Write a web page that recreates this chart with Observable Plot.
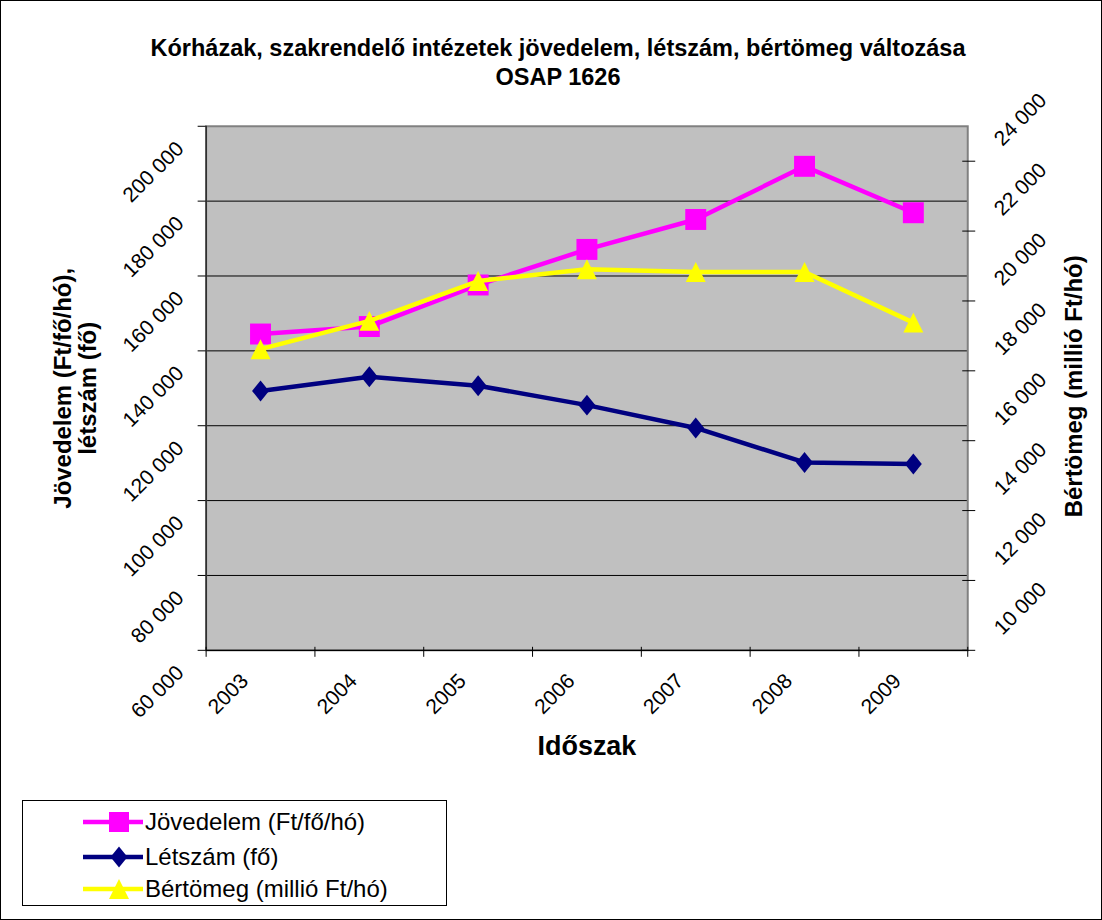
<!DOCTYPE html>
<html>
<head>
<meta charset="utf-8">
<script src="https://cdn.jsdelivr.net/npm/d3@7"></script>
<script src="https://cdn.jsdelivr.net/npm/@observablehq/plot@0.6"></script>
<style>
  html, body { margin: 0; padding: 0; background: #fff; }
  #wrap { position: relative; width: 1102px; height: 920px; box-sizing: border-box; border: 1px solid #000; overflow: hidden; font-family: "Liberation Sans", Arial, sans-serif; background: #fff; }
  #title { position: absolute; left: 0; top: 33px; width: 1102px; padding-left: 12px; box-sizing: border-box; text-align: center; font-weight: bold; font-size: 23.5px; line-height: 29px; color: #000; }
  #chart { position: absolute; left: 0; top: 0; }
  #legend { position: absolute; left: 21px; top: 799px; width: 425px; height: 106px; box-sizing: border-box; border: 1px solid #000; background: #fff; }
  .row { position: absolute; left: 0; height: 30px; display: flex; align-items: center; font-size: 24px; color: #000; white-space: nowrap; }
  .row svg { margin-left: 60px; margin-right: 2px; }
</style>
</head>
<body>
<div id="wrap">
  <div id="chart"></div>
  <div id="title">Kórházak, szakrendelő intézetek jövedelem, létszám, bértömeg változása<br>OSAP 1626</div>
  <div id="legend"></div>
</div>
<script>
// ---- data ----
const years = [2003, 2004, 2005, 2006, 2007, 2008, 2009];
const jovedelem = [144500, 146500, 157600, 167100, 175100, 189300, 176900];   // Ft/fő/hó (left axis)
const letszam   = [129300, 133100, 130700, 125500, 119400, 110200, 109800];   // fő (left axis)
const bertomeg  = [18620, 19430, 20570, 20910, 20830, 20830, 19380];          // millió Ft/hó (right axis)
const leftTicks  = [60000, 80000, 100000, 120000, 140000, 160000, 180000, 200000];
const rightTicks = [10000, 12000, 14000, 16000, 18000, 20000, 22000, 24000];
const seriesNames = ["Jövedelem (Ft/fő/hó)", "Létszám (fő)", "Bértömeg (millió Ft/hó)"];
const xTitle = "Időszak";
const yLeftTitle = "Jövedelem (Ft/fő/hó),\nlétszám (fő)";
const yRightTitle = "Bértömeg (millió Ft/hó)";

// ---- scales helpers ----
const leftDomain = [60000, 200000];
const rightDomain = [10000, 25000];
const toLeft = v => leftDomain[0] + (v - rightDomain[0]) * (leftDomain[1] - leftDomain[0]) / (rightDomain[1] - rightDomain[0]);
const fmt = d3.formatLocale({decimal: ",", thousands: "\u00a0", grouping: [3], currency: ["", ""]}).format(",.0f");
const boundaries = d3.range(years[0] - 0.5, years[years.length - 1] + 1, 1);

const rows = years.map((y, i) => ({year: y, jov: jovedelem[i], let: letszam[i], bert: toLeft(bertomeg[i])}));

// ---- custom marker symbols ----
const sqSym = {draw(ctx, size) { const r = Math.sqrt(size / Math.PI); ctx.moveTo(-r, -r); ctx.lineTo(r, -r); ctx.lineTo(r, r); ctx.lineTo(-r, r); ctx.closePath(); }};
const diaSym = {draw(ctx, size) { const r = Math.sqrt(size / Math.PI); ctx.moveTo(0, -1.05 * r); ctx.lineTo(0.85 * r, 0); ctx.lineTo(0, 1.05 * r); ctx.lineTo(-0.85 * r, 0); ctx.closePath(); }};
const triSym = {draw(ctx, size) { const r = Math.sqrt(size / Math.PI); ctx.moveTo(0, -r); ctx.lineTo(r, r); ctx.lineTo(-r, r); ctx.closePath(); }};

const series = [
  {name: seriesNames[0], key: "jov", color: "#FF00FF", symbol: sqSym, r: 10.5},
  {name: seriesNames[1], key: "let", color: "#000080", symbol: diaSym, r: 10},
  {name: seriesNames[2], key: "bert", color: "#FFFF00", symbol: triSym, r: 10}
];

const font = "Liberation Sans, Arial, sans-serif";
const tickFont = 21;

const marks = [
  Plot.frame({fill: "#C0C0C0"}),
  Plot.gridY(leftTicks.slice(1, -1), {stroke: "#000", strokeOpacity: 1, strokeWidth: 1}),
  Plot.frame({stroke: "#808080", strokeWidth: 2}),
  Plot.ruleY([leftDomain[0]], {stroke: "#000", strokeWidth: 1.2}),
  Plot.ruleX([boundaries[0]], {stroke: "#000", strokeWidth: 1}),
  // tick marks
  Plot.axisY(leftTicks, {anchor: "left", tickSize: 8, tickFormat: () => "", label: null, stroke: "#000"}),
  Plot.axisY(rightTicks.map(toLeft), {anchor: "right", tickSize: 13, dx: -6, tickFormat: () => "", label: null, stroke: "#000"}),
  Plot.axisX(boundaries, {anchor: "bottom", tickSize: 10, dy: -3, tickFormat: () => "", label: null, stroke: "#000"}),
  // tick labels
  Plot.text(leftTicks, {y: d => d, text: d => fmt(d), frameAnchor: "left", rotate: -45, textAnchor: "end", dx: -26, dy: 19, fontSize: tickFont, fill: "#000"}),
  Plot.text(rightTicks, {y: d => toLeft(d), text: d => fmt(d), frameAnchor: "right", rotate: -45, textAnchor: "start", dx: 30, dy: -19, fontSize: tickFont, fill: "#000"}),
  Plot.text(years, {x: d => d, text: d => String(d), frameAnchor: "bottom", rotate: -45, textAnchor: "end", dx: -11, dy: 32, fontSize: tickFont, fill: "#000"}),
  // axis titles
  Plot.text([yLeftTitle], {frameAnchor: "left", text: d => d, rotate: -90, textAnchor: "middle", dx: -131, fontSize: 24, fontWeight: "bold", lineHeight: 1.05, fill: "#000"}),
  Plot.text([yRightTitle], {frameAnchor: "right", text: d => d, rotate: -90, textAnchor: "middle", dx: 107, dy: -2, fontSize: 24, fontWeight: "bold", fill: "#000"}),
  Plot.text([xTitle], {frameAnchor: "bottom", text: d => d, dy: 105, fontSize: 27, fontWeight: "bold", fill: "#000"})
];
for (const s of series) {
  marks.push(Plot.line(rows, {x: "year", y: s.key, stroke: s.color, strokeWidth: 4.5, strokeLinejoin: "round"}));
  marks.push(Plot.dot(rows, {x: "year", y: s.key, symbol: s.symbol, r: s.r, fill: s.color, stroke: "none"}));
}

const chart = Plot.plot({
  width: 1102,
  height: 920,
  marginLeft: 205,
  marginRight: 134,
  marginTop: 125,
  marginBottom: 270,
  style: {fontFamily: font, background: "transparent", overflow: "visible", color: "#000"},
  x: {type: "linear", domain: [boundaries[0], boundaries[boundaries.length - 1]], axis: null},
  y: {type: "linear", domain: leftDomain, axis: null},
  marks
});
document.getElementById("chart").appendChild(chart);

// ---- legend ----
const legend = document.getElementById("legend");
const rowTops = [6, 41, 73];
const sym = {
  jov: '<rect x="26" y="2" width="20" height="20"/>',
  let: '<path d="M36,1.5 L44.5,12 L36,22.5 L27.5,12 Z"/>',
  bert: '<path d="M36,2 L46,22 L26,22 Z"/>'
};
series.forEach((s, i) => {
  const row = document.createElement("div");
  row.className = "row";
  row.style.top = rowTops[i] + "px";
  row.innerHTML = `<svg width="60" height="24" viewBox="0 0 60 24"><line x1="0" y1="12" x2="60" y2="12" stroke="${s.color}" stroke-width="4.5"/><g fill="${s.color}">${sym[s.key]}</g></svg><span>${s.name}</span>`;
  legend.appendChild(row);
});
</script>
</body>
</html>
